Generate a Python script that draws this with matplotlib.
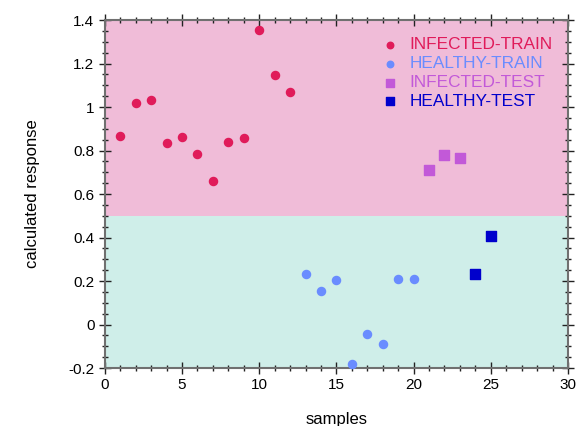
import numpy as np
import matplotlib.pyplot as plt
from matplotlib.ticker import MultipleLocator

plt.rcParams['font.family'] = ['Liberation Sans', 'DejaVu Sans']

# data
inf_train_x = [1, 2, 3, 4, 5, 6, 7, 8, 9, 10, 11, 12]
inf_train_y = [0.868, 1.018, 1.034, 0.834, 0.861, 0.784, 0.660, 0.839, 0.856, 1.353, 1.149, 1.067]
hea_train_x = [13, 14, 15, 16, 17, 18, 19, 20]
hea_train_y = [0.231, 0.152, 0.205, -0.182, -0.044, -0.091, 0.208, 0.208]
inf_test_x = [21, 22, 23]
inf_test_y = [0.709, 0.778, 0.767]
hea_test_x = [24, 25]
hea_test_y = [0.234, 0.408]

threshold = 0.5


def main():
    fig = plt.figure(figsize=(5.79, 4.26), dpi=100)
    ax = fig.add_axes([0.181, 0.136, 0.800, 0.817])

    ax.set_xlim(0, 30)
    ax.set_ylim(-0.2, 1.4)
    ax.axhspan(threshold, 1.4, color='#f0bcd8', zorder=0, lw=0)
    ax.axhspan(-0.2, threshold, color='#cfeee9', zorder=0, lw=0)

    ax.scatter(inf_train_x, inf_train_y, s=34, marker='o', color='#e01b5a',
               label='INFECTED-TRAIN', zorder=3, clip_on=False)
    ax.scatter(hea_train_x, hea_train_y, s=34, marker='o', color='#6a8cff',
               label='HEALTHY-TRAIN', zorder=3, clip_on=False)
    ax.scatter(inf_test_x, inf_test_y, s=42, marker='s', color='#c259d8',
               label='INFECTED-TEST', zorder=3, clip_on=False)
    ax.scatter(hea_test_x, hea_test_y, s=42, marker='s', color='#0000cc',
               label='HEALTHY-TEST', zorder=3, clip_on=False)

    ax.xaxis.set_major_locator(MultipleLocator(5))
    ax.xaxis.set_minor_locator(MultipleLocator(1))
    ax.yaxis.set_minor_locator(MultipleLocator(0.05))
    ax.set_yticks(np.arange(-0.2, 1.41, 0.2))
    ax.set_yticklabels(['-0.2', '0', '0.2', '0.4', '0.6', '0.8', '1', '1.2', '1.4'])

    ax.tick_params(which='both', direction='inout', top=True, right=True,
                   labelsize=11, color='#222222')
    ax.tick_params(which='major', length=8, width=1)
    ax.tick_params(which='minor', length=5, width=1)
    for sp in ax.spines.values():
        sp.set_color('#707070')
        sp.set_linewidth(1.5)

    ax.set_xlabel('samples', fontsize=12, labelpad=14)
    ax.set_ylabel('calculated response', fontsize=12, labelpad=20)

    ax.legend(loc='upper right', bbox_to_anchor=(0.986, 0.975), frameon=False,
              fontsize=12.4, handletextpad=0.35, labelspacing=0.22,
              borderpad=0, markerscale=0.8, handlelength=1.6,
              labelcolor='markerfacecolor')

    fig.savefig('out.png', dpi=100)


if __name__ == '__main__':
    main()
